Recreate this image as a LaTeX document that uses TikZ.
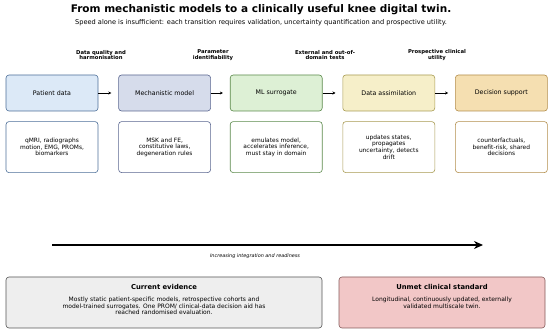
\documentclass[tikz,border=0pt]{standalone}
\usepackage{fontspec}
\setmainfont{DejaVu Sans}
\usetikzlibrary{arrows.meta,positioning}

\definecolor{patfill}{HTML}{DCE9F7}\definecolor{patline}{HTML}{4D6F99}
\definecolor{mechfill}{HTML}{D6DCEB}\definecolor{mechline}{HTML}{5A6690}
\definecolor{mlfill}{HTML}{DDF0D5}\definecolor{mlline}{HTML}{5C8A4C}
\definecolor{dafill}{HTML}{F6EFC9}\definecolor{daline}{HTML}{A89B52}
\definecolor{dsfill}{HTML}{F5DFB1}\definecolor{dsline}{HTML}{B38E4C}
\definecolor{evfill}{HTML}{EEEEEE}\definecolor{evline}{HTML}{555555}
\definecolor{unfill}{HTML}{F2C7C7}\definecolor{unline}{HTML}{855A5A}

\begin{document}
\begin{tikzpicture}[
    x=1pt,y=1pt,
    node distance=20pt,
    stage/.style={draw,rounded corners=3pt,minimum height=36pt,minimum width=92pt,
                  align=center,font=\fontsize{6.3}{7.3}\selectfont,line width=0.6pt},
    detail/.style={stage,fill=white,minimum height=51pt,font=\fontsize{5.9}{6.6}\selectfont},
    gate/.style={font=\fontsize{5.3}{5.8}\selectfont\bfseries,align=center},
    panel/.style={draw,rounded corners=3pt,minimum height=51pt,line width=0.6pt},
    step arrow/.style={-{Stealth[length=3pt,width=3pt]},line width=0.6pt,shorten >=7pt},
]
\useasboundingbox (0,0) rectangle (550,335);

% ---- heading ----
\node[font=\fontsize{10.5}{12}\selectfont\bfseries] (title) at (261,325)
     {From mechanistic models to a clinically useful knee digital twin.};
\node[font=\fontsize{6.6}{8}\selectfont] (sub) at (261,312)
     {Speed alone is insufficient: each transition requires validation, uncertainty quantification and prospective utility.};

% ---- pipeline stages (top row) ----
\node[stage,fill=patfill,draw=patline] (pat) at (52,242) {Patient data};
\node[stage,fill=mechfill,draw=mechline,right=of pat] (mech) {Mechanistic model};
\node[stage,fill=mlfill,draw=mlline,right=19pt of mech] (ml) {ML surrogate};
\node[stage,fill=dafill,draw=daline,right=of ml] (da) {Data assimilation};
\node[stage,fill=dsfill,draw=dsline,right=of da] (ds) {Decision support};

\draw[step arrow] (pat) -- (mech);
\draw[step arrow] (mech) -- (ml);
\draw[step arrow] (ml) -- (da);
\draw[step arrow] (da) -- (ds);

% ---- gates above the transitions ----
\node[gate] (g1) at (101,280) {Data quality and\\harmonisation};
\node[gate] (g2) at (213,280) {Parameter\\identifiability};
\node[gate] (g3) at (325,280) {External and out-of-\\domain tests};
\node[gate] (g4) at (437,280) {Prospective clinical\\utility};

% ---- stage details (second row) ----
\node[detail,draw=patline,below=10pt of pat] (patd)
     {qMRI, radiographs\\motion, EMG, PROMs,\\biomarkers};
\node[detail,draw=mechline,below=10pt of mech] (mechd)
     {MSK and FE,\\constitutive laws,\\degeneration rules};
\node[detail,draw=mlline,below=10pt of ml] (mld)
     {emulates model,\\accelerates inference,\\must stay in domain};
\node[detail,draw=daline,below=10pt of da] (dad)
     {updates states,\\propagates\\uncertainty, detects\\drift};
\node[detail,draw=dsline,below=10pt of ds] (dsd)
     {counterfactuals,\\benefit-risk, shared\\decisions};

% ---- readiness axis ----
\coordinate (axL) at (52,90);
\coordinate (axR) at (483,90);
\draw[-{Stealth[length=9pt,width=8pt]},line width=1.4pt] (axL) -- (axR);
\node[font=\fontsize{4.9}{5.8}\selectfont\itshape] (axlbl) at (255,79)
     {Increasing integration and readiness};

% ---- evidence panels ----
\node[panel,fill=evfill,draw=evline,minimum width=316pt] (ev) at (164,32.5) {};
\node[font=\fontsize{6.8}{8}\selectfont\bfseries] (evt) at ([yshift=-10pt]ev.north)
     {Current evidence};
\node[font=\fontsize{6}{6.3}\selectfont,align=center,below=1pt of evt] (evb)
     {Mostly static patient-specific models, retrospective cohorts and\\model-trained surrogates. One PROM/ clinical-data decision aid has\\reached randomised evaluation.};

\node[panel,fill=unfill,draw=unline,minimum width=206pt] (un) at (442,32.5) {};
\node[font=\fontsize{6.8}{8}\selectfont\bfseries] (unt) at ([yshift=-10pt]un.north)
     {Unmet clinical standard};
\node[font=\fontsize{6}{6.3}\selectfont,align=center,below=1pt of unt] (unb)
     {Longitudinal, continuously updated, externally\\validated multiscale twin.};

\end{tikzpicture}
\end{document}
